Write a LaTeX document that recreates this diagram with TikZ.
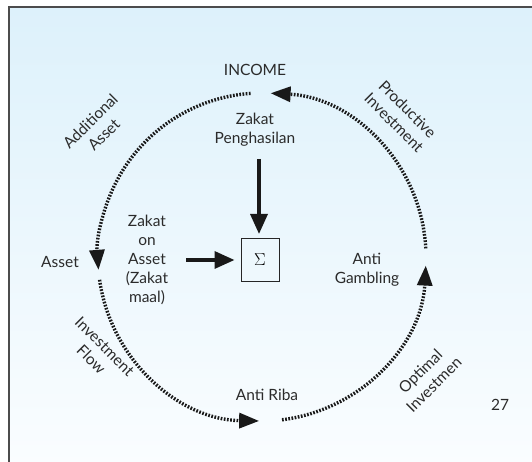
\documentclass[tikz,border=0pt]{standalone}
\usepackage{fontspec}
\setmainfont{Lato}
\usetikzlibrary{arrows.meta,calc}
\definecolor{txt}{HTML}{2B2B2B}
\definecolor{bgtop}{HTML}{DDF1FB}
\definecolor{bgbot}{HTML}{FAFDFF}
\tikzset{
  lbl/.style={text=txt, font=\fontsize{15.5}{19}\selectfont, align=center, inner sep=0pt},
  flow/.style={line width=3.4pt, dash pattern=on 1.7pt off 1.5pt, -{Triangle[length=20pt,width=15pt]}, black!90},
  solidarrow/.style={line width=3.4pt, -{Triangle[length=20pt,width=17pt]}, black!90},
}
\begin{document}
\begin{tikzpicture}[x=1pt,y=1pt]
\useasboundingbox (0,0) rectangle (532,462);
\shade[top color=bgtop, bottom color=bgbot] (8.5,-2) rectangle (534,454.5);
\draw[line width=2pt, black!70] (8.5,-2) -- (8.5,454.5) -- (534,454.5);
\coordinate (C) at (262,205);
% circle arcs
\draw[flow] ($(C)+(94:164)$) arc[start angle=94, end angle=184.5, radius=164];
\draw[flow] ($(C)+(188:164)$) arc[start angle=188, end angle=269, radius=164];
\draw[flow] ($(C)+(277:164)$) arc[start angle=277, end angle=357, radius=164];
\draw[flow] ($(C)+(3:164)$) arc[start angle=3, end angle=87, radius=164];
% labels
\node[lbl] (income) at (255,392) {INCOME};
\node[lbl] (zp) at (255,332) {Zakat\\Penghasilan};
\node[draw=black!85, line width=1pt, minimum width=38pt, minimum height=43pt, inner sep=0pt] (sig) at (260,202) {\fontsize{19}{19}\selectfont$\Sigma$};
\node[lbl] (zoa) at (147,202) {Zakat\\on\\Asset\\(Zakat\\maal)};
\node[lbl] (asset) at (60,200) {Asset};
\node[lbl] (ag) at (367,192) {Anti\\Gambling};
\node[lbl] (ar) at (267,67) {Anti Riba};
\node[lbl] (n27) at (500,57) {27};
\node[lbl, rotate=45] (aa) at (97,334) {Additional\\Asset};
\node[lbl, rotate=-45] (pi) at (401,346) {Productive\\Investment};
\node[lbl, rotate=-45] (if) at (98,109) {Investment\\Flow};
\node[lbl, rotate=45] (oi) at (427,84) {Optimal\\Investmen};
% solid arrows
\coordinate (dstart) at (259,303);
\coordinate (rstart) at (186,202);
\draw[solidarrow] (dstart) -- ([yshift=4pt]sig.north -| dstart);
\draw[solidarrow] (rstart) -- ([xshift=-6pt]sig.west);
\end{tikzpicture}
\end{document}
